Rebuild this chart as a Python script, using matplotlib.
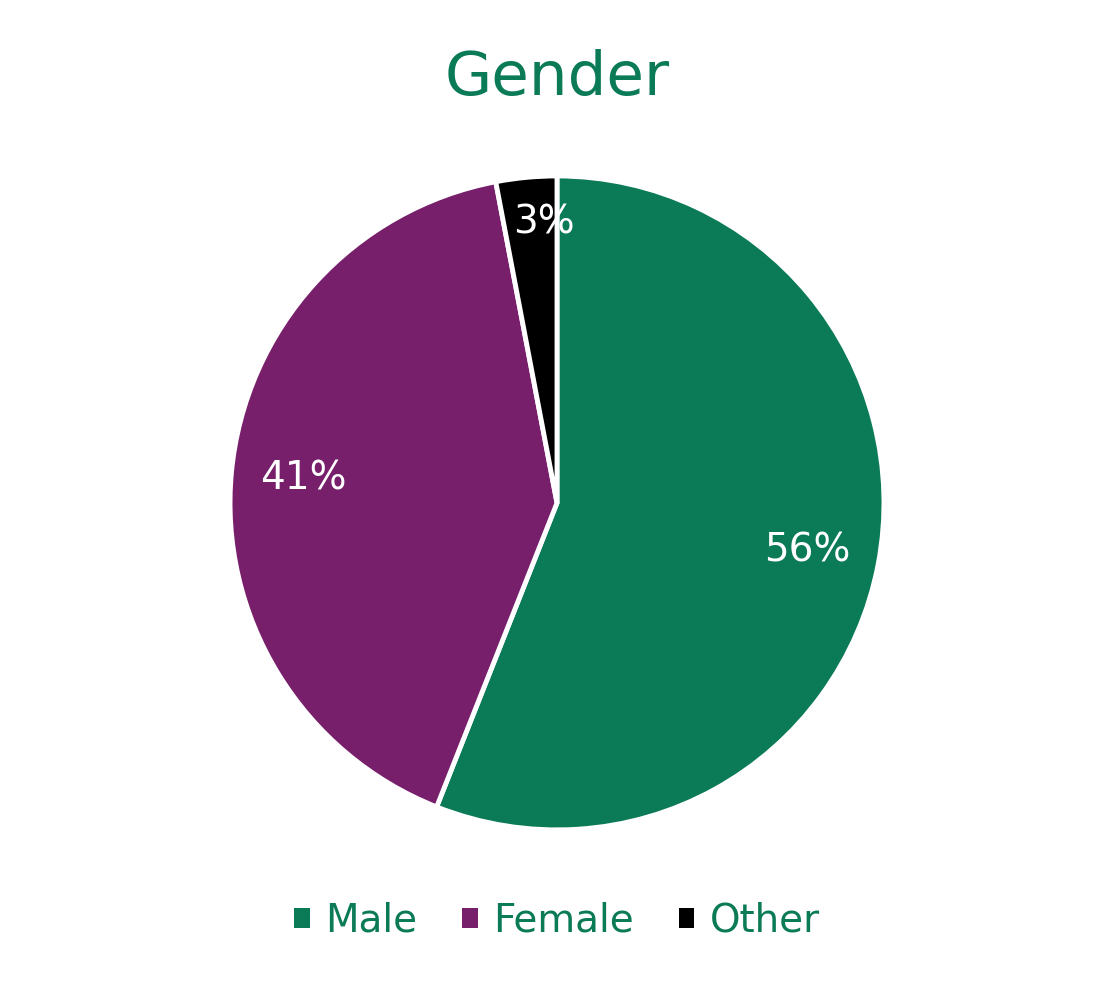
import matplotlib.pyplot as plt
from matplotlib.patches import Patch

# data
labels = ["Male", "Female", "Other"]
shares = [56, 41, 3]
colors = ["#0b7a56", "#781f6b", "#000000"]
green = "#0b7a56"

plt.rcParams['font.family'] = ['DejaVu Sans']

fig = plt.figure(figsize=(11.14, 9.9), dpi=100)
ax = fig.add_axes([0.5 - 0.2935, 0.492 - 0.3303, 0.587, 0.6606])

wedges, texts, autotexts = ax.pie(
    shares, colors=colors, startangle=90, counterclock=False,
    autopct='%1.0f%%', pctdistance=0.78,
    wedgeprops=dict(edgecolor='white', linewidth=3.5),
    textprops=dict(color='white', fontsize=28))

# small slice label sits closer to the rim
x, y = autotexts[2].get_position()
autotexts[2].set_position((x * 0.86 / 0.78 + 0.04, y * 0.86 / 0.78))

ax.set_xlim(-1, 1)
ax.set_ylim(-1, 1)
ax.set_aspect('equal')
ax.axis('off')

fig.text(0.5, 0.921, "Gender", ha='center', va='center',
         fontsize=44, color=green)

handles = [Patch(facecolor=c, edgecolor='none') for c in colors]
leg = fig.legend(handles, labels, loc='center', bbox_to_anchor=(0.5, 0.07),
                 ncol=3, frameon=False, fontsize=28,
                 handlelength=0.4, handleheight=0.4,
                 handletextpad=0.4, columnspacing=1.15)
for t in leg.get_texts():
    t.set_color(green)

fig.savefig("out.png", dpi=100)
